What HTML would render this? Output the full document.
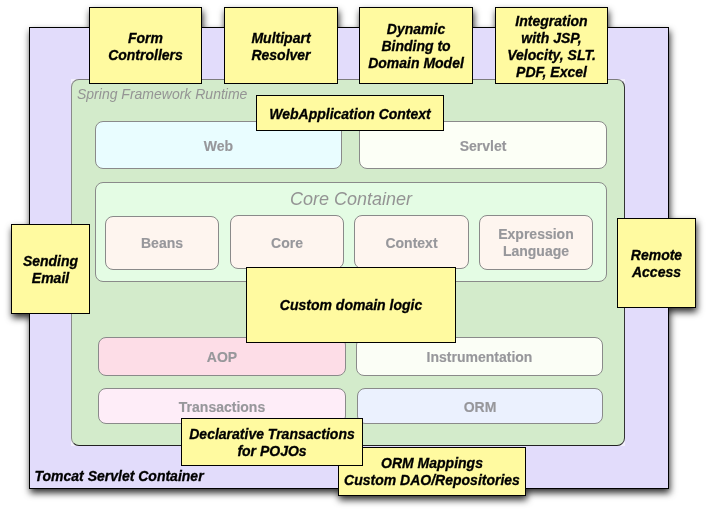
<!DOCTYPE html>
<html>
<head>
<meta charset="utf-8">
<title>Spring Framework Runtime</title>
<style>
html,body{margin:0;padding:0;background:#fff;}
body{width:706px;height:510px;overflow:hidden;position:relative;font-family:"Liberation Sans",sans-serif;}
#d{position:absolute;left:0;top:0;width:706px;height:510px;filter:drop-shadow(1px 4px 3.8px rgba(0,0,0,0.82));}
#d div{position:absolute;box-sizing:border-box;}
.tom{left:29px;top:27px;width:640px;height:462px;background:#e2dcfb;border:1px solid #000;}
.tomlbl{left:34.5px;top:468px;-webkit-text-stroke:0.3px #000;font:italic bold 14px/17px "Liberation Sans",sans-serif;color:#000;white-space:nowrap;}
.spr{left:71px;top:79px;width:554px;height:367px;background:#d3ebcb;border:1px solid;border-color:#7c7c7c #333 #222 #8a8a8a;border-radius:8px;}
.sprbg{left:71px;top:79px;width:554px;height:367px;background:rgba(255,255,255,0.55);}
.sprlbl{left:77px;top:86px;font:italic 14px/17px "Liberation Sans",sans-serif;color:#949494;white-space:nowrap;}
.y{background:#fffaa0;border:1px solid #000;padding-top:2px;-webkit-text-stroke:0.3px #000;display:flex;align-items:center;justify-content:center;text-align:center;font:italic bold 14px/17px "Liberation Sans",sans-serif;color:#000;}
.r{border:1px solid #8a8a8a;border-radius:8px;padding-top:2px;-webkit-text-stroke:0.15px #97979b;display:flex;align-items:center;justify-content:center;text-align:center;font:bold 14px/17px "Liberation Sans",sans-serif;color:#97979b;}
.cc{left:95px;top:182px;width:512px;height:100px;background:#e4fce4;border:1px solid #8a8a8a;border-radius:8px;}
.cclbl{left:95px;top:189px;width:512px;text-align:center;font:italic 18px/21px "Liberation Sans",sans-serif;color:#949494;white-space:nowrap;}
</style>
</head>
<body>
<div id="d">
  <div class="tom"></div>
  <div class="tomlbl">Tomcat Servlet Container</div>
  <div class="sprbg"></div>
  <div class="spr"></div>
  <div class="sprlbl">Spring Framework Runtime</div>

  <div class="r" style="left:95px;top:121px;width:247px;height:48px;background:#e9fdff;">Web</div>
  <div class="r" style="left:359px;top:121px;width:248px;height:48px;background:#fcfff6;">Servlet</div>

  <div class="cc"></div>
  <div class="cclbl">Core Container</div>
  <div class="r" style="left:105px;top:216px;width:114px;height:54px;padding-top:0;background:#fef5ef;">Beans</div>
  <div class="r" style="left:230px;top:215px;width:114px;height:54px;background:#fef5ef;">Core</div>
  <div class="r" style="left:354px;top:215px;width:115px;height:54px;background:#fef5ef;">Context</div>
  <div class="r" style="left:479px;top:215px;width:114px;height:55px;padding-top:0;background:#fef5ef;">Expression<br>Language</div>

  <div class="r" style="left:98px;top:337px;width:248px;height:39px;background:#fddde7;">AOP</div>
  <div class="r" style="left:356px;top:337px;width:247px;height:39px;background:#fbfef6;">Instrumentation</div>
  <div class="r" style="left:98px;top:388px;width:248px;height:36px;background:#feedf8;">Transactions</div>
  <div class="r" style="left:357px;top:388px;width:246px;height:36px;background:#ebf1fe;">ORM</div>

  <div class="y" style="left:89px;top:7px;width:113px;height:77px;">Form<br>Controllers</div>
  <div class="y" style="left:224px;top:7px;width:114px;height:77px;">Multipart<br>Resolver</div>
  <div class="y" style="left:359px;top:7px;width:114px;height:77px;">Dynamic<br>Binding to<br>Domain Model</div>
  <div class="y" style="left:495px;top:7px;width:113px;height:77px;">Integration<br>with JSP,<br>Velocity, SLT.<br>PDF, Excel</div>
  <div class="y" style="left:256px;top:95px;width:188px;height:36px;">WebApplication Context</div>
  <div class="y" style="left:11px;top:224px;width:79px;height:90px;">Sending<br>Email</div>
  <div class="y" style="left:617px;top:218px;width:79px;height:90px;">Remote<br>Access</div>
  <div class="y" style="left:246px;top:267px;width:210px;height:76px;padding-top:0;">Custom domain logic</div>
  <div class="y" style="left:338px;top:447px;width:188px;height:49px;padding-top:0;">ORM Mappings<br>Custom DAO/Repositories</div>
  <div class="y" style="left:181px;top:418px;width:182px;height:48px;">Declarative Transactions<br>for POJOs</div>
</div>
</body>
</html>
